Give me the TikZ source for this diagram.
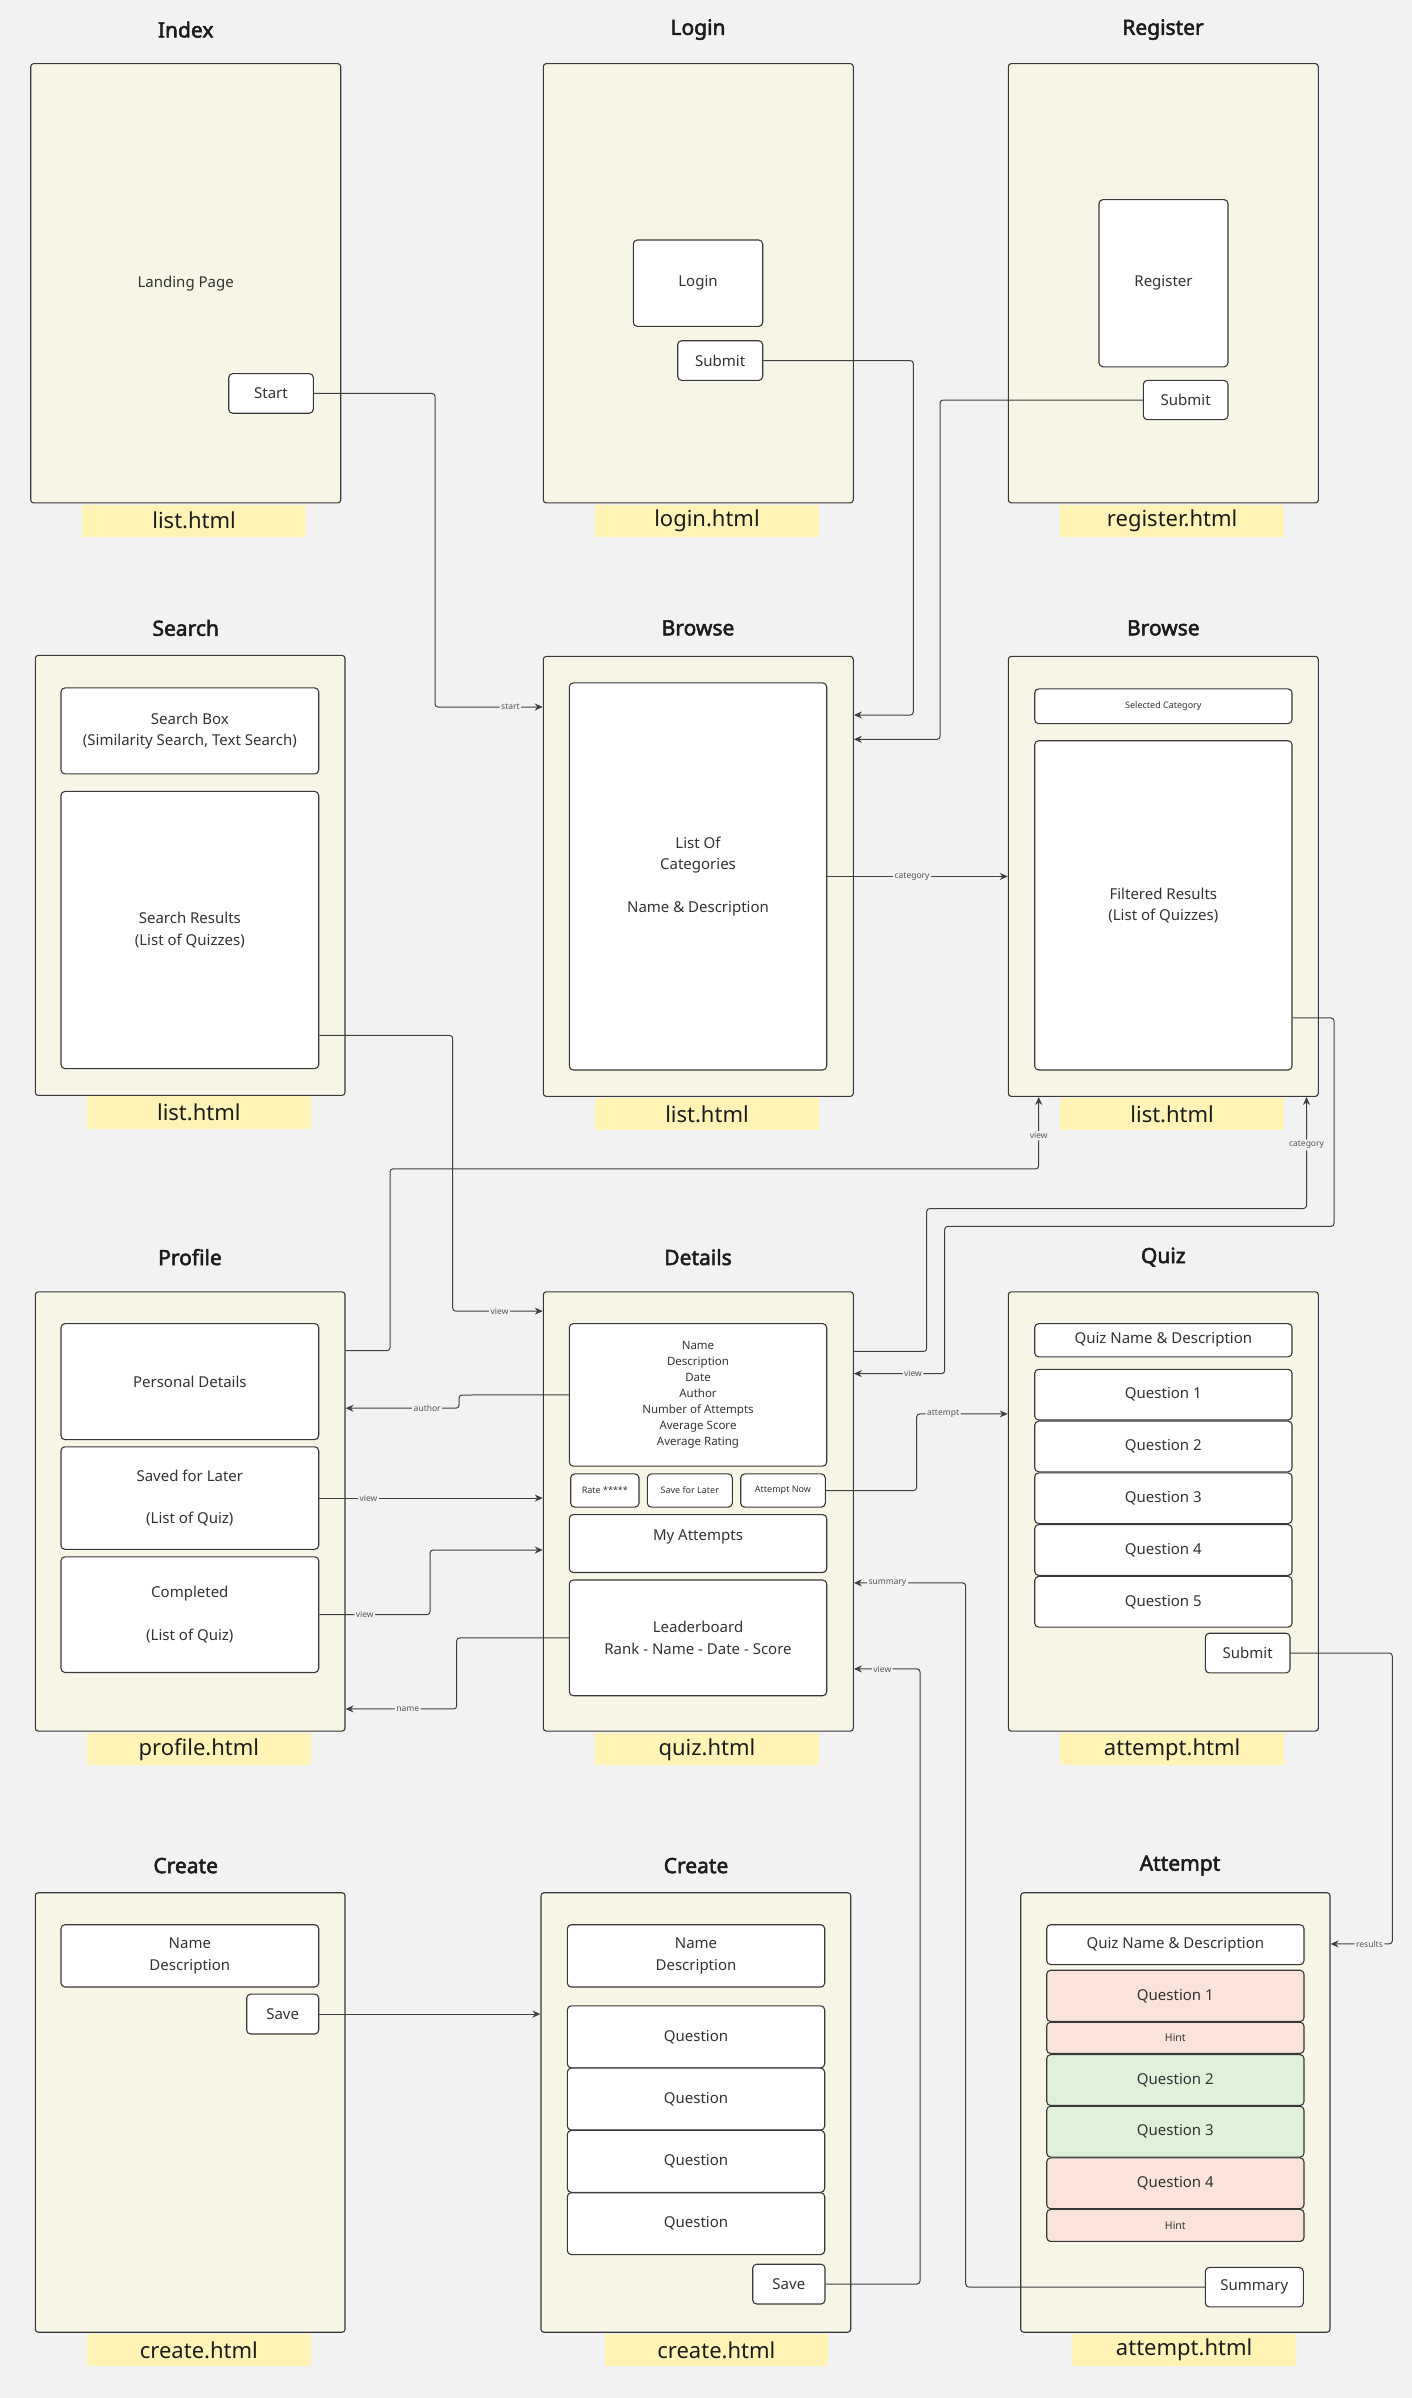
\documentclass[tikz,border=0pt]{standalone}
\usepackage{fontspec}
\setmainfont{Noto Sans}[AutoFakeBold=2.5]
\newfontfamily\tfam{Noto Sans}[AutoFakeBold=2.5]
\usetikzlibrary{arrows.meta}
\definecolor{bgC}{HTML}{F2F2F2}
\definecolor{frameC}{HTML}{F6F5E6}
\definecolor{yelC}{HTML}{FFF4B6}
\definecolor{lineC}{HTML}{383838}
\definecolor{connC}{HTML}{404040}
\definecolor{textC}{HTML}{333333}
\definecolor{titleC}{HTML}{1C1C1C}
\definecolor{lblC}{HTML}{555555}
\definecolor{redC}{HTML}{FAE3DA}
\definecolor{greenC}{HTML}{E0F1DA}
\newcommand\fBody{\fontsize{15}{21.4}\selectfont}
\newcommand\fInfo{\fontsize{11.5}{16.1}\selectfont}
\newcommand\fSmall{\fontsize{9}{11}\selectfont}
\newcommand\fHint{\fontsize{10.5}{12}\selectfont}
\newcommand\fTitle{\tfam\fontsize{21}{25}\selectfont\bfseries}
\newcommand\fFile{\fontsize{22}{26}\selectfont}
\newcommand\fLbl{\fontsize{8.5}{10}\selectfont}
\newcommand\mkbox[7]{\node[#6, minimum width={(#4)-(#2)}, minimum height={(#5)-(#3)}] (#1) at ({((#2)+(#4))/2},{((#3)+(#5))/2}) {#7};}
\begin{document}
\begin{tikzpicture}[x=1pt,y=-1pt,
  frame/.style={draw=lineC, fill=frameC, rounded corners=3pt, line width=1.1pt, inner sep=0pt, font=\fBody, text=textC},
  box/.style={draw=lineC, fill=white, rounded corners=4pt, line width=1.1pt, inner sep=0pt, align=center, font=\fBody, text=textC},
  redbox/.style={box, fill=redC},
  greenbox/.style={box, fill=greenC},
  title/.style={font=\fTitle, text=titleC},
  file/.style={fill=yelC, inner sep=0pt, font=\fFile, text=titleC},
  conn/.style={draw=connC, line width=1pt, rounded corners=3pt},
  arr/.style={-{Stealth[length=8pt,width=7pt]}},
  lbl/.style={fill=bgC, inner sep=1.5pt, font=\fLbl, text=lblC}]
\fill[bgC] (0,0) rectangle (1412,2398);
\useasboundingbox (0,0) rectangle (1412,2398);

% ---------- frames ----------
\mkbox{fIndex}{30.7}{63.6}{340.7}{502.9}{frame}{Landing Page}
\mkbox{fLogin}{543.3}{63.6}{853.3}{502.9}{frame}{}
\mkbox{fReg}{1008.3}{63.6}{1318.3}{502.9}{frame}{}
\mkbox{fSearch}{35.3}{655.4}{345}{1095.4}{frame}{}
\mkbox{fBrowse}{543.3}{656.4}{853.3}{1096.4}{frame}{}
\mkbox{fBrowse2}{1008.3}{656.4}{1318.3}{1096.4}{frame}{}
\mkbox{fProfile}{35.3}{1291.8}{345}{1731.1}{frame}{}
\mkbox{fDetails}{543.3}{1291.8}{853.3}{1731.1}{frame}{}
\mkbox{fQuiz}{1008.3}{1291.8}{1318.3}{1731.1}{frame}{}
\mkbox{fCreate}{35.3}{1892.7}{345}{2332.2}{frame}{}
\mkbox{fCreate2}{541}{1892.7}{850.7}{2332.2}{frame}{}
\mkbox{fAttempt}{1020.7}{1892.7}{1330}{2332.2}{frame}{}

% ---------- titles ----------
\node[title] (tIndex) at (185.7,29.6) {Index};
\node[title] (tLogin) at (698,29.6) {Login};
\node[title] (tReg) at (1163,29.6) {Register};
\node[title] (tSearch) at (185.7,627.9) {Search};
\node[title] (tBrowse) at (698,627.9) {Browse};
\node[title] (tBrowse2) at (1163.3,627.9) {Browse};
\node[title] (tProfile) at (190,1257.1) {Profile};
\node[title] (tDetails) at (698,1257.1) {Details};
\node[title] (tQuiz) at (1163.3,1257.1) {Quiz};
\node[title] (tCreate) at (185.7,1865.6) {Create};
\node[title] (tCreate2) at (696,1865.6) {Create};
\node[title] (tAttempt) at (1180,1865.6) {Attempt};

% ---------- file labels ----------
\mkbox{lIndex}{82.3}{504.6}{306}{536.8}{file}{list.html}
\mkbox{lLogin}{595.3}{504.6}{818.7}{536.8}{file}{login.html}
\mkbox{lReg}{1060.3}{504.6}{1284}{536.8}{file}{register.html}
\mkbox{lSearch}{87}{1096.4}{310.7}{1128.6}{file}{list.html}
\mkbox{lBrowse}{595.3}{1098.2}{818.7}{1130.4}{file}{list.html}
\mkbox{lBrowse2}{1060.3}{1098.2}{1284}{1130.4}{file}{list.html}
\mkbox{lProfile}{87}{1733.2}{310.7}{1765.4}{file}{profile.html}
\mkbox{lDetails}{595.3}{1733.2}{818.7}{1765.4}{file}{quiz.html}
\mkbox{lQuiz}{1060.3}{1733.2}{1284}{1765.4}{file}{attempt.html}
\mkbox{lCreate}{87}{2333.9}{310.7}{2366}{file}{create.html}
\mkbox{lCreate2}{605}{2333.9}{827.7}{2366}{file}{create.html}
\mkbox{lAttempt}{1072.3}{2333.9}{1296}{2366}{file}{attempt.html}

% ---------- inner boxes ----------
\mkbox{bStart}{228.7}{373.6}{313.3}{413.2}{box}{Start}
\mkbox{bLogin}{633.3}{240}{762.7}{326.4}{box}{Login}
\mkbox{bLSubmit}{677.7}{340.7}{762.7}{380.4}{box}{Submit}
\mkbox{bReg}{1099}{199.6}{1228}{366.8}{box}{Register}
\mkbox{bRSubmit}{1143.3}{380.4}{1228}{419.6}{box}{Submit}

\mkbox{bSBox}{61}{687.9}{318.7}{773.9}{box}{Search Box\\(Similarity Search, Text Search)}
\mkbox{bSRes}{61}{791.4}{318.7}{1068.6}{box}{Search Results\\(List of Quizzes)}
\mkbox{bCats}{569.3}{682.9}{826.7}{1070}{box}{List Of\\Categories\\[21.4pt]Name \& Description}
\mkbox{bSel}{1034.7}{688.9}{1292}{723.6}{box,font=\fSmall}{Selected Category}
\mkbox{bFilt}{1034.7}{740.7}{1292}{1070}{box}{Filtered Results\\(List of Quizzes)}

\mkbox{bPers}{61}{1323.6}{318.7}{1439.6}{box}{Personal Details}
\mkbox{bSaved}{61}{1446.8}{318.7}{1549.3}{box}{Saved for Later\\[21.4pt](List of Quiz)}
\mkbox{bComp}{61}{1556.8}{318.7}{1672.5}{box}{Completed\\[21.4pt](List of Quiz)}

\mkbox{bInfo}{569.3}{1323.6}{826.7}{1466.1}{box,font=\fInfo}{Name\\Description\\Date\\Author\\Number of Attempts\\Average Score\\Average Rating}
\mkbox{bRate}{570.7}{1473.9}{639}{1507.1}{box,font=\fSmall}{Rate *****}
\mkbox{bSave}{647.3}{1473.9}{732.3}{1507.1}{box,font=\fSmall}{Save for Later}
\mkbox{bAtt}{740.7}{1473.9}{825.3}{1507.1}{box,font=\fSmall}{Attempt Now}
\mkbox{bMy}{569.3}{1514.6}{826.7}{1572.5}{box,label={[font=\fBody,text=textC,anchor=north,inner sep=0pt,yshift=-15pt]north:My Attempts}}{}
\mkbox{bLead}{569.3}{1580}{826.7}{1695.7}{box}{Leaderboard\\Rank - Name - Date - Score}

\mkbox{bQND}{1034.7}{1323.6}{1292}{1356.8}{box}{Quiz Name \& Description}
\mkbox{bQ1}{1034.7}{1369.3}{1292}{1420}{box}{Question 1}
\mkbox{bQ2}{1034.7}{1421.1}{1292}{1471.8}{box}{Question 2}
\mkbox{bQ3}{1034.7}{1472.9}{1292}{1523.6}{box}{Question 3}
\mkbox{bQ4}{1034.7}{1524.6}{1292}{1575.4}{box}{Question 4}
\mkbox{bQ5}{1034.7}{1576.4}{1292}{1627.1}{box}{Question 5}
\mkbox{bQSub}{1205.3}{1633.2}{1290}{1672.9}{box}{Submit}

\mkbox{bCND}{61}{1924.7}{318.7}{1987}{box}{Name\\Description}
\mkbox{bCSave}{246.7}{1994.1}{318.7}{2034}{box}{Save}

\mkbox{bC2ND}{567.3}{1924.7}{824.7}{1987}{box}{Name\\Description}
\mkbox{bC2Q1}{567.3}{2005.8}{824.7}{2067.8}{box}{Question}
\mkbox{bC2Q2}{567.3}{2068.1}{824.7}{2130}{box}{Question}
\mkbox{bC2Q3}{567.3}{2130.4}{824.7}{2192.3}{box}{Question}
\mkbox{bC2Q4}{567.3}{2192.7}{824.7}{2254.6}{box}{Question}
\mkbox{bC2Save}{752.7}{2264.2}{825}{2304}{box}{Save}

\mkbox{bAQND}{1046.7}{1924.7}{1304}{1964.6}{box}{Quiz Name \& Description}
\mkbox{bAQ1}{1046.7}{1970.2}{1304}{2021.5}{redbox}{Question 1}
\mkbox{bAH1}{1046.7}{2022.2}{1304}{2053.5}{redbox,font=\fHint}{Hint}
\mkbox{bAQ2}{1046.7}{2054.6}{1304}{2105.5}{greenbox}{Question 2}
\mkbox{bAQ3}{1046.7}{2106.2}{1304}{2157.1}{greenbox}{Question 3}
\mkbox{bAQ4}{1046.7}{2157.8}{1304}{2208.7}{redbox}{Question 4}
\mkbox{bAH2}{1046.7}{2209.4}{1304}{2241.4}{redbox,font=\fHint}{Hint}
\mkbox{bASum}{1205.3}{2267.4}{1303.3}{2306.9}{box}{Summary}

% ---------- waypoints ----------
\coordinate (c1) at (435,707);
\coordinate (c2) at (913.3,715);
\coordinate (c3) at (940,739.3);
\coordinate (c5a) at (452.7,1035.4);
\coordinate (c5b) at (452.7,1311.1);
\coordinate (c6a) at (390,1350.7);
\coordinate (c6b) at (390,1168.8);
\coordinate (c6c) at (1038.7,1168.8);
\coordinate (c7a) at (926.7,1351.4);
\coordinate (c7b) at (926.7,1208.5);
\coordinate (c7c) at (1306.5,1208.5);
\coordinate (c8a) at (1334,1017.9);
\coordinate (c8b) at (1334,1226.4);
\coordinate (c8c) at (944.7,1226.4);
\coordinate (c8d) at (944.7,1373.6);
\coordinate (c9a) at (459,1395);
\coordinate (c9b) at (459,1408.2);
\coordinate (c11a) at (430,1614.6);
\coordinate (c11b) at (430,1550);
\coordinate (c12a) at (456.7,1637.9);
\coordinate (c12b) at (456.7,1708.9);
\coordinate (c13a) at (916.7,1490.5);
\coordinate (c13b) at (916.7,1413.9);
\coordinate (c14a) at (1392.3,1653);
\coordinate (c14b) at (1392.3,1943.9);
\coordinate (c15a) at (965.7,2287);
\coordinate (c15b) at (965.7,1582.9);
\coordinate (c16a) at (920,2284);
\coordinate (c16b) at (920,1668.9);

% ---------- connectors ----------
\draw[conn,arr] (bStart.east) -| (c1) -- node[lbl,pos=0.7]{start} (fBrowse.west |- c1);
\draw[conn,arr] (bLSubmit.east) -| (c2) -- (fBrowse.east |- c2);
\draw[conn,arr] (bRSubmit.west) -| (c3) -- (fBrowse.east |- c3);
\draw[conn,arr] (bCats.east) -- node[lbl,pos=0.47]{category} (fBrowse2.west |- bCats.east);
\draw[conn,arr] (bSRes.east |- c5a) -- (c5a) -- (c5b) -- node[lbl,pos=0.52]{view} (fDetails.west |- c5b);
\draw[conn,arr] (fProfile.east |- c6a) -- (c6a) -- (c6b) -- (c6c) -- node[lbl,pos=0.46]{view} (fBrowse2.south -| c6c);
\draw[conn,arr] (fDetails.east |- c7a) -- (c7a) -- (c7b) -- (c7c) -- node[lbl,pos=0.57]{category} (fBrowse2.south -| c7c);
\draw[conn,arr] (bFilt.east |- c8a) -- (c8a) -- (c8b) -- (c8c) -- (c8d) -- node[lbl,pos=0.35]{view} (fDetails.east |- c8d);
\draw[conn,arr] (bInfo.west) -- (c9a) -- (c9b) -- node[lbl,pos=0.28]{author} (fProfile.east |- c9b);
\draw[conn,arr] (bSaved.east) -- node[lbl,pos=0.22]{view} (fDetails.west |- bSaved.east);
\draw[conn,arr] (bComp.east) -- node[lbl,pos=0.41]{view} (c11a) -- (c11b) -- (fDetails.west |- c11b);
\draw[conn,arr] (bLead.west) -- (c12a) -- (c12b) -- node[lbl,pos=0.44]{name} (fProfile.east |- c12b);
\draw[conn,arr] (bAtt.east) -- (c13a) -- (c13b) -- node[lbl,pos=0.29]{attempt} (fQuiz.west |- c13b);
\draw[conn,arr] (bQSub.east) -- (c14a) -- (c14b) -- node[lbl,pos=0.37]{results} (fAttempt.east |- c14b);
\draw[conn,arr] (bASum.west) -- (c15a) -- (c15b) -- node[lbl,pos=0.70]{summary} (fDetails.east |- c15b);
\draw[conn,arr] (bC2Save.east) -- (c16a) -- (c16b) -- node[lbl,pos=0.57]{view} (fDetails.east |- c16b);
\draw[conn,arr] (bCSave.east) -- (fCreate2.west |- bCSave.east);
\end{tikzpicture}
\end{document}
